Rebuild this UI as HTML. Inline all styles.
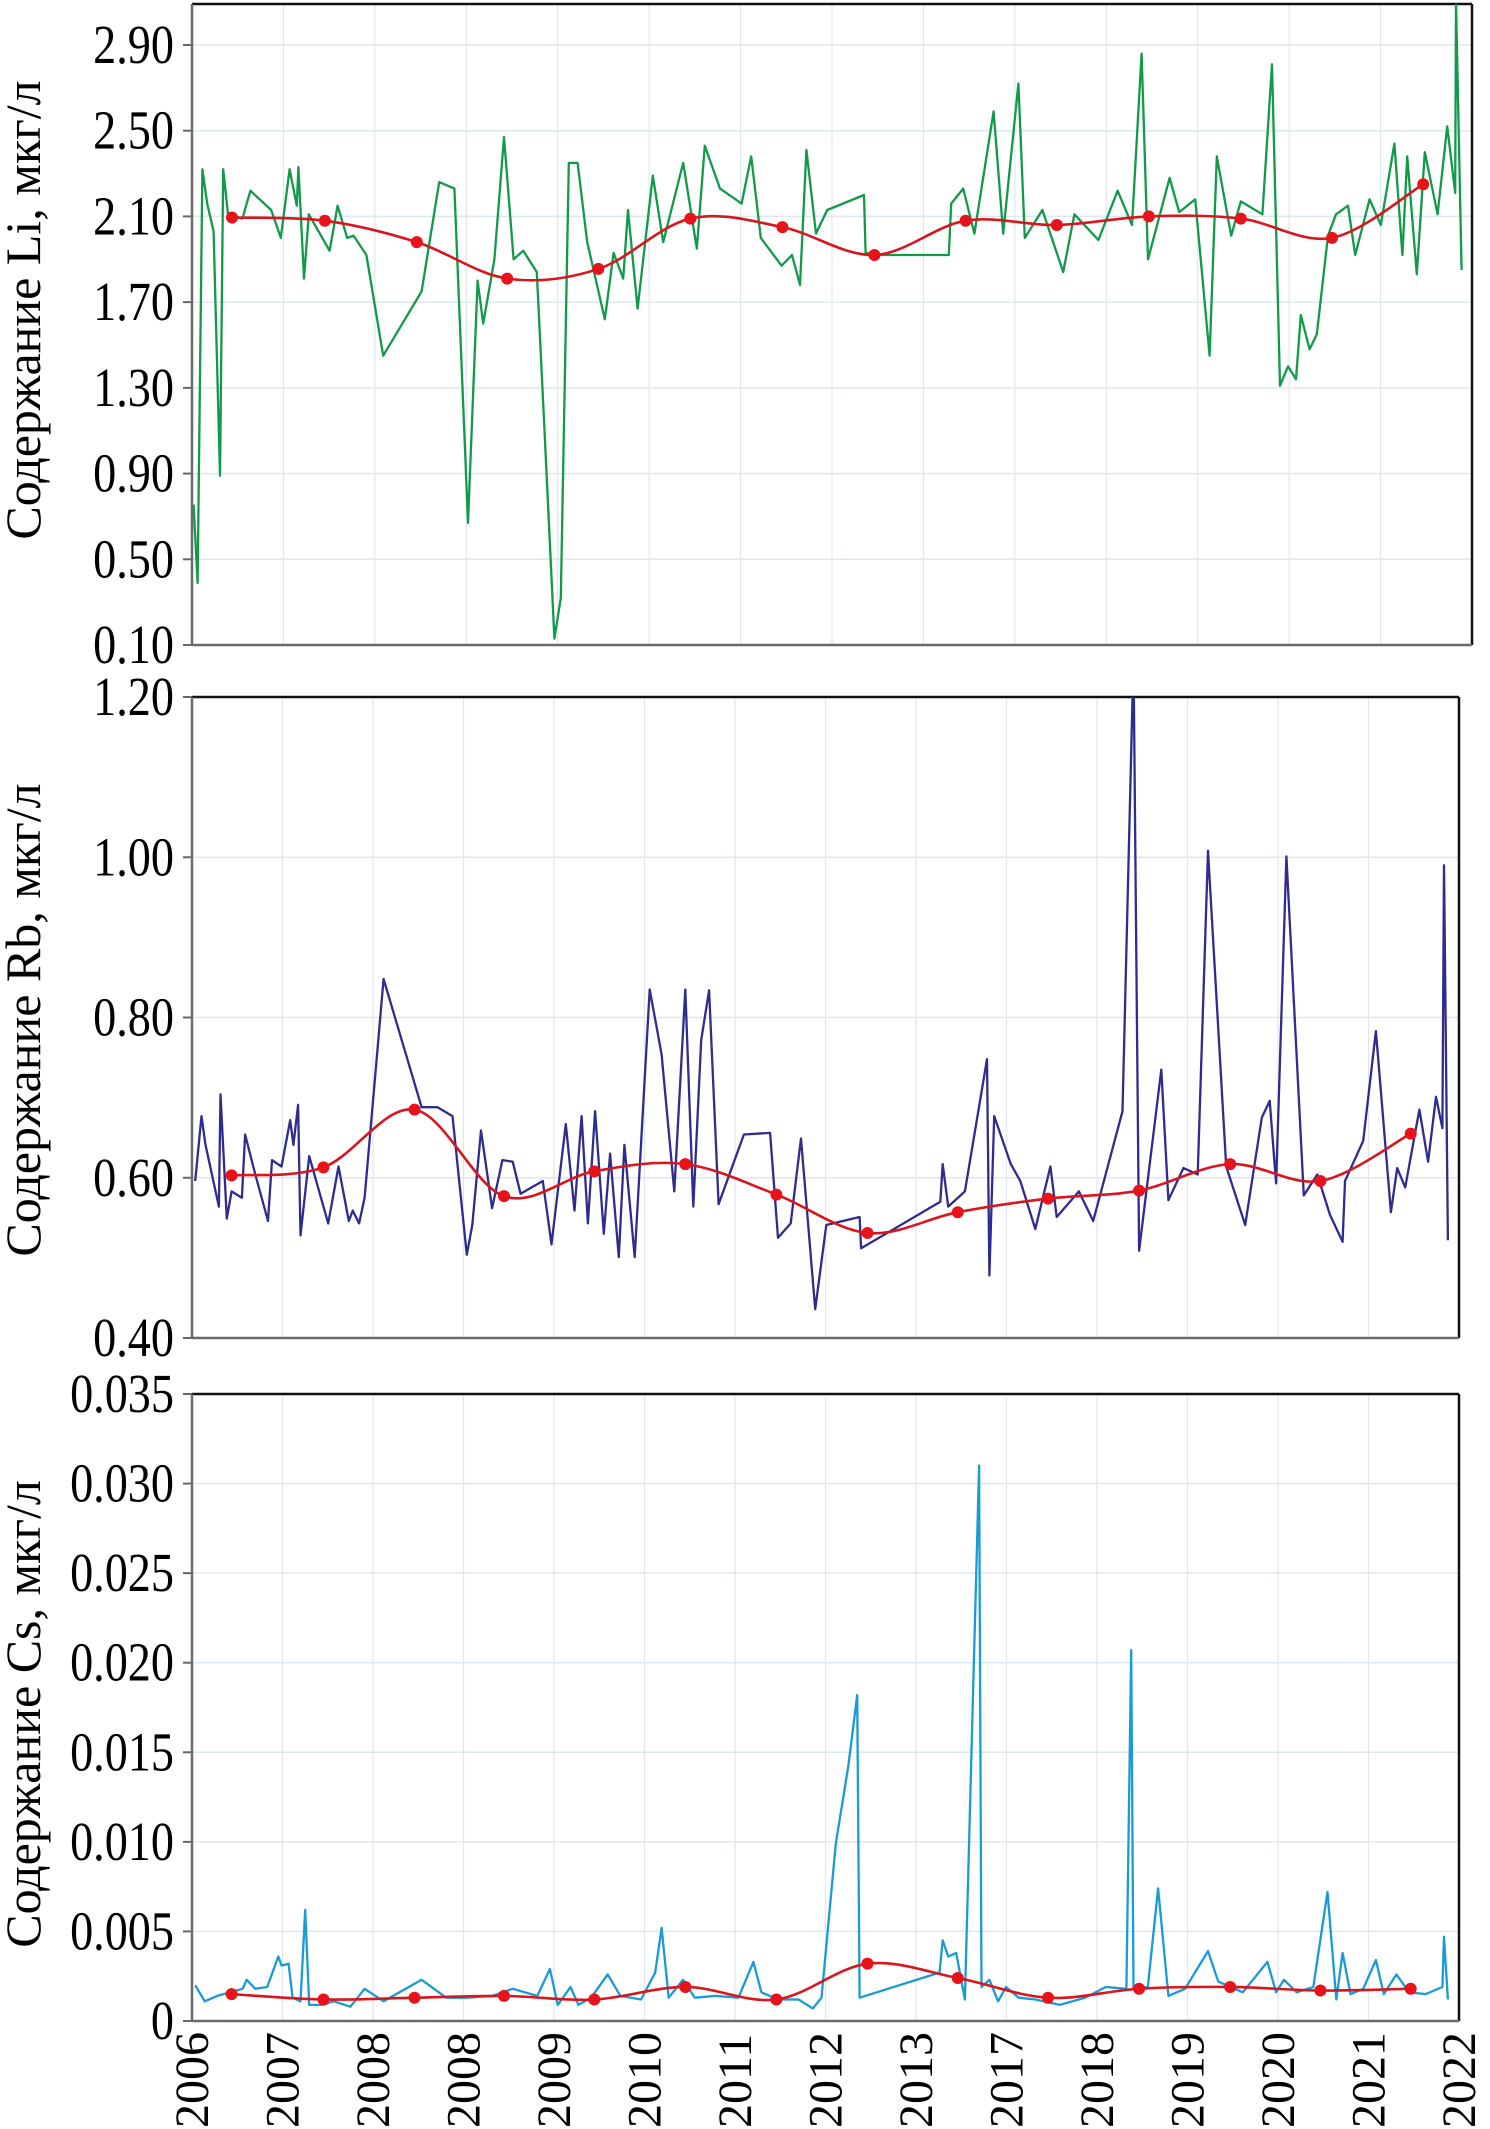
<!DOCTYPE html>
<html><head><meta charset="utf-8">
<style>
html,body{margin:0;padding:0;background:#fff;}
svg{display:block;}
text{font-family:"Liberation Serif",serif;fill:#000;}
</style></head>
<body>
<svg id="chart" width="1490" height="2129" viewBox="0 0 1490 2129" xmlns="http://www.w3.org/2000/svg"></svg>
<script>
// ---------- data (x in plot units 0..16 across the panel width) ----------
const yearLabels = ["2006","2007","2008","2008","2009","2010","2011","2012","2013","2017","2018","2019","2020","2021","2022"];
const trendX = [0.5,1.66,2.81,3.94,5.08,6.23,7.38,8.53,9.67,10.81,11.96,13.11,14.25,15.39];

const liX = [0.02,0.07,0.13,0.19,0.27,0.35,0.39,0.45,0.63,0.73,0.99,1.11,1.22,1.31,1.33,1.40,1.46,1.72,1.82,1.94,2.02,2.18,2.39,2.87,3.09,3.28,3.45,3.57,3.64,3.78,3.90,4.02,4.14,4.31,4.40,4.53,4.61,4.71,4.82,4.94,5.16,5.27,5.39,5.45,5.57,5.76,5.89,6.14,6.31,6.41,6.60,6.87,6.99,7.11,7.37,7.50,7.60,7.68,7.80,7.94,8.40,8.42,8.64,9.46,9.49,9.64,9.78,10.02,10.14,10.33,10.41,10.63,10.89,11.03,11.33,11.57,11.75,11.87,11.95,12.22,12.34,12.54,12.72,12.81,12.99,13.11,13.38,13.50,13.60,13.70,13.80,13.86,13.97,14.06,14.20,14.30,14.45,14.54,14.72,14.86,15.03,15.13,15.19,15.31,15.41,15.57,15.69,15.79,15.80,15.87];
const liY = [0.755,0.39,2.32,2.16,2.03,0.89,2.32,2.11,2.09,2.22,2.13,2.00,2.32,2.15,2.33,1.81,2.11,1.94,2.15,2.00,2.01,1.92,1.45,1.75,2.26,2.23,0.67,1.80,1.60,1.90,2.47,1.90,1.94,1.84,1.15,0.13,0.32,2.35,2.35,1.98,1.62,1.93,1.81,2.13,1.67,2.29,1.98,2.35,1.95,2.43,2.23,2.16,2.38,2.00,1.87,1.92,1.78,2.41,2.02,2.13,2.20,1.93,1.92,1.92,2.16,2.23,2.02,2.59,2.02,2.72,2.00,2.13,1.84,2.11,1.99,2.22,2.06,2.86,1.90,2.28,2.12,2.18,1.45,2.38,2.01,2.17,2.11,2.81,1.31,1.40,1.34,1.64,1.48,1.55,2.01,2.11,2.15,1.92,2.18,2.06,2.44,1.92,2.38,1.83,2.40,2.11,2.52,2.21,3.10,1.85];
const liTrend = [2.095,2.08,1.98,1.81,1.855,2.09,2.05,1.92,2.08,2.06,2.10,2.09,2.00,2.25];
const liTicks = [0.10,0.50,0.90,1.30,1.70,2.10,2.50,2.90];

const rbX = [0.04,0.12,0.17,0.34,0.36,0.44,0.50,0.63,0.67,0.80,0.96,1.01,1.13,1.24,1.28,1.34,1.37,1.48,1.72,1.85,1.98,2.03,2.11,2.18,2.42,2.90,3.10,3.29,3.47,3.54,3.65,3.79,3.92,4.05,4.15,4.43,4.54,4.72,4.83,4.92,5.00,5.09,5.20,5.28,5.39,5.46,5.59,5.78,5.93,6.09,6.23,6.33,6.43,6.53,6.65,6.97,7.30,7.40,7.56,7.69,7.87,8.01,8.43,8.45,9.45,9.48,9.55,9.76,10.04,10.07,10.13,10.34,10.46,10.65,10.84,10.92,11.20,11.38,11.75,11.89,11.96,12.24,12.33,12.52,12.70,12.83,13.06,13.30,13.51,13.61,13.69,13.82,14.04,14.21,14.37,14.53,14.56,14.79,14.95,15.14,15.22,15.32,15.50,15.61,15.71,15.79,15.81,15.86];
const rbY = [0.596,0.677,0.641,0.564,0.704,0.549,0.583,0.575,0.654,0.604,0.546,0.622,0.614,0.672,0.641,0.691,0.528,0.627,0.543,0.614,0.546,0.559,0.543,0.575,0.848,0.688,0.688,0.677,0.504,0.541,0.659,0.562,0.622,0.620,0.580,0.596,0.517,0.667,0.559,0.677,0.543,0.683,0.530,0.630,0.501,0.641,0.501,0.835,0.754,0.583,0.835,0.564,0.772,0.834,0.567,0.654,0.656,0.525,0.543,0.649,0.436,0.541,0.551,0.512,0.570,0.617,0.564,0.583,0.748,0.478,0.677,0.617,0.596,0.536,0.614,0.551,0.583,0.546,0.683,1.25,0.509,0.735,0.572,0.612,0.604,1.008,0.614,0.541,0.675,0.696,0.593,1.001,0.578,0.604,0.554,0.520,0.596,0.646,0.783,0.557,0.612,0.588,0.685,0.620,0.701,0.662,0.990,0.522];
const rbTrend = [0.603,0.613,0.685,0.577,0.608,0.617,0.579,0.531,0.557,0.574,0.584,0.617,0.596,0.655];
const rbTicks = [0.40,0.60,0.80,1.00,1.20];

const csX = [0.04,0.16,0.32,0.48,0.64,0.69,0.80,0.95,1.09,1.13,1.22,1.27,1.37,1.43,1.48,1.64,1.79,2.00,2.18,2.42,2.90,3.21,3.47,3.79,4.05,4.36,4.52,4.62,4.78,4.88,5.04,5.25,5.41,5.67,5.85,5.93,6.02,6.20,6.35,6.61,6.90,7.09,7.19,7.40,7.66,7.84,7.95,8.13,8.29,8.40,8.43,9.44,9.48,9.55,9.65,9.76,9.94,9.97,10.07,10.18,10.28,10.44,10.65,10.96,11.28,11.54,11.80,11.86,11.89,12.07,12.20,12.33,12.54,12.83,12.96,13.27,13.58,13.69,13.79,13.95,14.16,14.34,14.45,14.53,14.63,14.79,14.95,15.05,15.21,15.37,15.58,15.79,15.81,15.86];
const csY = [0.0020,0.0011,0.0014,0.0016,0.0018,0.0023,0.0018,0.0019,0.0036,0.0031,0.0032,0.0013,0.0011,0.0062,0.0009,0.0009,0.0011,0.0008,0.0018,0.0011,0.0023,0.0013,0.0013,0.0014,0.0018,0.0014,0.0029,0.0009,0.0019,0.0009,0.0013,0.0026,0.0014,0.0012,0.0027,0.0052,0.0013,0.0023,0.0013,0.0014,0.0013,0.0033,0.0016,0.0012,0.0012,0.0007,0.0013,0.0099,0.0143,0.0182,0.0013,0.0027,0.0045,0.0036,0.0038,0.0012,0.0310,0.0019,0.0023,0.0011,0.0019,0.0013,0.0012,0.0009,0.0013,0.0019,0.0018,0.0207,0.0018,0.0019,0.0074,0.0014,0.0018,0.0039,0.0022,0.0016,0.0033,0.0016,0.0023,0.0016,0.0019,0.0072,0.0012,0.0038,0.0015,0.0018,0.0034,0.0015,0.0026,0.0016,0.0015,0.0019,0.0047,0.0012];
const csTrend = [0.0015,0.0012,0.0013,0.0014,0.0012,0.0019,0.0012,0.0032,0.0024,0.0013,0.0018,0.0019,0.0017,0.0018];
const csTicks = [0,0.005,0.010,0.015,0.020,0.025,0.030,0.035];
const csTickLabels = ["0","0.005","0.010","0.015","0.020","0.025","0.030","0.035"];

// ---------- drawing ----------
const NS = "http://www.w3.org/2000/svg";
const svg = document.getElementById("chart");
function mk(tag, attrs, parent){
  const e = document.createElementNS(NS, tag);
  for (const k in attrs) e.setAttribute(k, attrs[k]);
  (parent||svg).appendChild(e);
  return e;
}
function smoothPath(pts){
  let d = "M"+pts[0][0]+","+pts[0][1];
  for (let i=0;i<pts.length-1;i++){
    const p0=pts[Math.max(0,i-1)], p1=pts[i], p2=pts[i+1], p3=pts[Math.min(pts.length-1,i+2)];
    const c1x=p1[0]+(p2[0]-p0[0])/6, c1y=p1[1]+(p2[1]-p0[1])/6;
    const c2x=p2[0]-(p3[0]-p1[0])/6, c2y=p2[1]-(p3[1]-p1[1])/6;
    d += " C"+c1x+","+c1y+" "+c2x+","+c2y+" "+p2[0]+","+p2[1];
  }
  return d;
}

function panel(cfg){
  const g = mk("g", {});
  
  
  const {L,R,T,B,ymin,ymax} = cfg;
  const sx = u => L + (u/16)*(R-L);
  const sy = v => B - (v-ymin)/(ymax-ymin)*(B-T);
  const clip = mk("clipPath", {id:"clip-"+cfg.name}, g);
  mk("rect",{x:L,y:T,width:R-L,height:B-T},clip);
  for (let i=1;i<14;i++){
    const x = L + i*(R-L)/14;
    const gl = mk("line",{x1:x,y1:T,x2:x,y2:B,stroke:"#dfe7ee","stroke-width":1.2},g);
    
    
  }
  cfg.ticks.forEach((t,i)=>{
    const y = sy(t);
    if (t>ymin && t<ymax){
      const gl = mk("line",{x1:L,y1:y,x2:R,y2:y,stroke:"#dfe7ee","stroke-width":1.5},g);
      
      
    }
    mk("line",{x1:L-9,y1:y,x2:L,y2:y,stroke:"#666","stroke-width":2},g);
    const tx = mk("text",{x:0,y:0,"font-size":55,"text-anchor":"end",transform:"translate("+(L-18)+","+(y+18)+") scale(0.84,1)"},g);
    tx.textContent = cfg.tickLabels ? cfg.tickLabels[i] : t.toFixed(2);
    
    
  });
  mk("line",{x1:L,y1:T,x2:R,y2:T,stroke:"#111","stroke-width":2.5},g);
  mk("line",{x1:R,y1:T,x2:R,y2:B,stroke:"#111","stroke-width":2.5},g);
  mk("line",{x1:L,y1:T,x2:L,y2:B,stroke:"#6a6a6a","stroke-width":2.5},g);
  mk("line",{x1:L,y1:B,x2:R,y2:B,stroke:"#6a6a6a","stroke-width":2.5},g);
  const cg = mk("g",{"clip-path":"url(#clip-"+cfg.name+")"},g);
  const pts = cfg.xs.map((u,i)=>sx(u).toFixed(1)+","+sy(cfg.ys[i]).toFixed(1)).join(" ");
  const pl = mk("polyline",{points:pts,fill:"none",stroke:cfg.color,"stroke-width":2.3,"stroke-linejoin":"round"},cg);
  
  
  const tp = trendX.map((u,i)=>[sx(u),sy(cfg.trend[i])]);
  const tl = mk("path",{d:smoothPath(tp),fill:"none",stroke:"#d8161e","stroke-width":2.6},cg);
  
  
  tp.forEach(p=>{
    const c = mk("circle",{cx:p[0],cy:p[1],r:6,fill:"#e8121a"},cg);
    
    
  });
  const yt = mk("text",{x:0,y:0,"font-size":50,"text-anchor":"middle",transform:"translate("+(cfg.titleX)+","+cfg.titleY+") rotate(-90)"},g);
  yt.textContent = cfg.title;
  
  
  return {sx,sy};
}

panel({name:"li-panel",L:192,R:1472,T:4,B:645,ymin:0.10,ymax:0.10+641/600*2.8,ticks:liTicks,xs:liX,ys:liY,trend:liTrend,color:"#13994a",title:"Содержание Li, мкг/л",titleX:40,titleY:310});
panel({name:"rb-panel",L:192,R:1459,T:697,B:1338,ymin:0.40,ymax:1.20,ticks:rbTicks,xs:rbX,ys:rbY,trend:rbTrend,color:"#2f2c8e",title:"Содержание Rb, мкг/л",titleX:40,titleY:1020});
panel({name:"cs-panel",L:192,R:1459,T:1394,B:2021,ymin:0,ymax:0.035,ticks:csTicks,tickLabels:csTickLabels,xs:csX,ys:csY,trend:csTrend,color:"#1a9bd5",title:"Содержание Cs, мкг/л",titleX:40,titleY:1714});

const xg = mk("g",{});


yearLabels.forEach((lab,i)=>{
  const x = 192 + i*(1459-192)/14;
  const t = mk("text",{x:0,y:0,"font-size":48,"text-anchor":"start",transform:"translate("+(x+16)+",2128) rotate(-90)"},xg);
  t.textContent = lab;
  
  
});
</script>
</body></html>
